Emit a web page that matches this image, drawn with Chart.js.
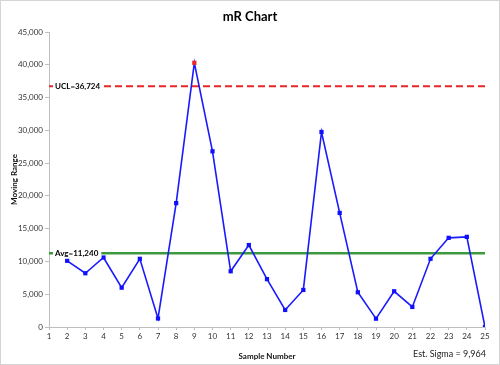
<!DOCTYPE html>
<html>
<head>
<meta charset="utf-8">
<script src="https://cdn.jsdelivr.net/npm/chart.js@4"></script>
<style>
  html, body { margin: 0; padding: 0; background: #fff; }
  #wrap { width: 500px; height: 365px; position: relative; }
</style>
</head>
<body>
<div id="wrap"><canvas id="c" width="500" height="365"></canvas></div>
<script>
const samples   = [2, 3, 4, 5, 6, 7, 8, 9, 10, 11, 12, 13, 14, 15, 16, 17, 18, 19, 20, 21, 22, 23, 24, 25];
const movRange  = [10100, 8200, 10600, 6000, 10400, 1300, 18900, 40300, 26800, 8500, 12500, 7300,
                   2600, 5650, 29750, 17400, 5300, 1270, 5450, 3060, 10400, 13600, 13750, 0];
const xRange    = [1, 25];
const ucl       = 36724;
const avg       = 11240;
const estSigma  = '9,964';
const titleText = 'mR Chart';

const FONT = 'Lato, "Open Sans", sans-serif';
const pts = samples.map((s, i) => ({ x: s, y: movRange[i] }));
const ptColors = movRange.map(v => v > ucl ? '#e8262a' : '#1010ff');

const labelsPlugin = {
  id: 'labels',
  afterDraw(chart) {
    const { ctx, chartArea: ca, scales: { y } } = chart;
    ctx.save();
    // title
    ctx.fillStyle = '#000';
    ctx.font = 'bold 13px ' + FONT;
    ctx.textAlign = 'center'; ctx.textBaseline = 'middle';
    ctx.fillText(titleText, 250, 17);
    // control line labels
    ctx.font = 'bold 8px ' + FONT;
    ctx.textAlign = 'left';
    [['UCL=' + ucl.toLocaleString('en-US'), ucl], ['Avg=' + avg.toLocaleString('en-US'), avg]].forEach(([t, v]) => {
      const yy = y.getPixelForValue(v);
      const w = ctx.measureText(t).width;
      ctx.fillStyle = '#fff';
      ctx.fillRect(ca.left + 4, yy - 5, w + 5, 10);
      ctx.fillStyle = '#000';
      ctx.fillText(t, ca.left + 6, yy);
    });
    // est sigma
    ctx.font = '9px ' + FONT;
    ctx.fillStyle = '#222';
    ctx.textAlign = 'right';
    ctx.fillText('Est. Sigma = ' + estSigma, 486, 354);
    // frame
    ctx.strokeStyle = '#d4d4d4'; ctx.lineWidth = 1;
    ctx.strokeRect(0.5, 0.5, 499, 364);
    ctx.restore();
  }
};

new Chart(document.getElementById('c'), {
  type: 'line',
  data: {
    datasets: [
      { data: [{ x: xRange[0], y: ucl }, { x: xRange[1], y: ucl }], borderColor: '#e8262a', borderWidth: 2,
        borderDash: [7, 4], pointRadius: 0, order: 3 },
      { data: [{ x: xRange[0], y: avg }, { x: xRange[1], y: avg }], borderColor: '#3c9a3c', borderWidth: 2.5,
        pointRadius: 0, order: 2 },
      { data: pts, borderColor: '#1a1aff', borderWidth: 1.6, pointStyle: 'rect', pointRadius: 3,
        pointBackgroundColor: ptColors, pointBorderColor: ptColors, pointBorderWidth: 0, order: 1 }
    ]
  },
  options: {
    responsive: false, animation: false,
    layout: { padding: { top: 32, right: 15, left: 0, bottom: 0 } },
    plugins: { legend: { display: false }, tooltip: { enabled: false } },
    scales: {
      x: {
        type: 'linear', min: xRange[0], max: xRange[1],
        afterFit(s) { s.height = 38; },
        ticks: { stepSize: 1, color: '#333', font: { family: FONT, size: 8 }, padding: 2 },
        grid: { drawOnChartArea: false, drawTicks: true, tickLength: 3, color: '#bfbfbf' },
        border: { color: '#bfbfbf' },
        title: { display: true, text: 'Sample Number', color: '#111', font: { family: FONT, size: 8, weight: 'bold' }, padding: { top: 2 } }
      },
      y: {
        min: 0, max: 45000,
        afterFit(s) { s.width = 49; },
        ticks: { stepSize: 5000, color: '#333', font: { family: FONT, size: 8 }, padding: 2,
                 callback: v => v.toLocaleString('en-US') },
        grid: { drawOnChartArea: false, drawTicks: true, tickLength: 4, color: '#bfbfbf' },
        border: { color: '#bfbfbf' },
        title: { display: true, text: 'Moving Range', color: '#111', font: { family: FONT, size: 8, weight: 'bold' }, padding: { top: 10 } }
      }
    }
  },
  plugins: [labelsPlugin]
});
</script>
</body>
</html>
